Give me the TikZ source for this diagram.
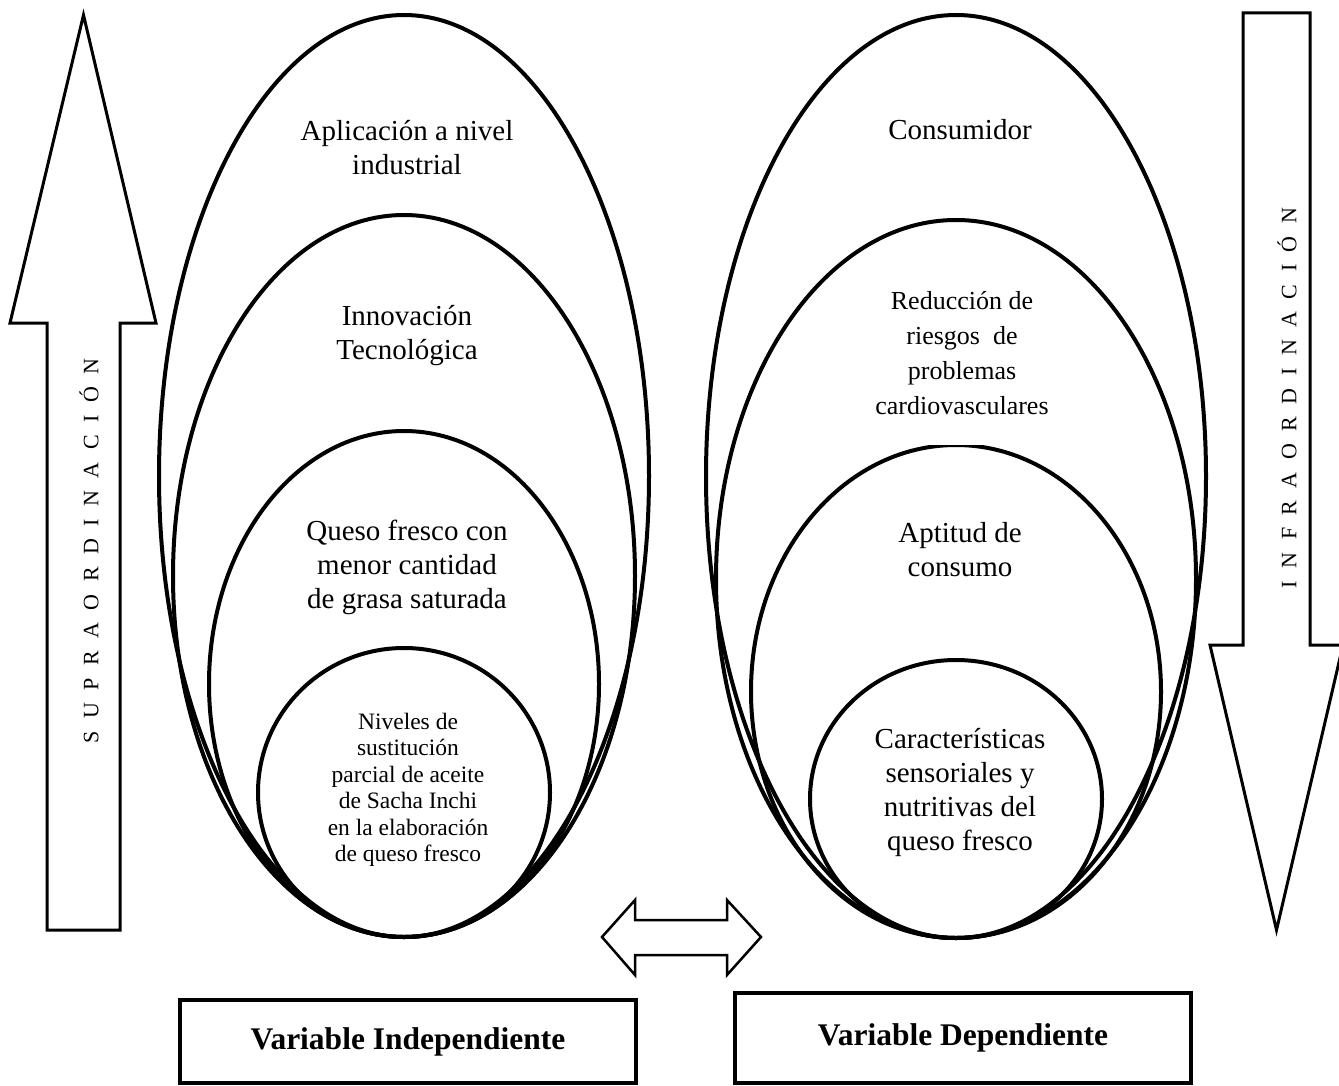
\documentclass[tikz,border=0pt]{standalone}
\usepackage{fontspec}
\setmainfont{Liberation Serif}
\newcommand\lsp{\hspace{12.5pt}}
\begin{document}
\begin{tikzpicture}[x=1pt,y=-1pt,
  ring/.style={line width=4pt},
  bigarrow/.style={line width=3pt, line join=miter},
  lbl/.style={align=center, inner sep=0pt, font=\fontsize{29}{34}\selectfont},
  vtext/.style={rotate=90, inner sep=0pt, font=\fontsize{22}{26}\selectfont},
  varbox/.style={draw, line width=4pt, minimum width=456pt, inner sep=0pt, font=\bfseries\fontsize{31.5}{36}\selectfont}
]
\useasboundingbox (0,0) rectangle (1339,1086);

% left up arrow
\draw[bigarrow] (83.5,15) -- (156,323) -- (120,323) -- (120,930) -- (47,930) -- (47,323) -- (10,323) -- cycle;
\node[vtext] (supra) at (89,551) {S\lsp U\lsp P\lsp R\lsp A\lsp O\lsp R\lsp D\lsp I\lsp N\lsp A\lsp C\lsp I\lsp Ó\lsp N};

% right down arrow
\draw[bigarrow] (1243,13) -- (1310,13) -- (1310,645) -- (1343,645) -- (1276.5,930) -- (1210,645) -- (1243,645) -- cycle;
\node[vtext] (infra) at (1287,398) {I\lsp N\lsp F\lsp R\lsp A\lsp O\lsp R\lsp D\lsp I\lsp N\lsp A\lsp C\lsp I\lsp Ó\lsp N};

% left ellipses
\draw[ring] (404,476) ellipse [x radius=245pt, y radius=461pt];
\draw[ring] (404,576) ellipse [x radius=231pt, y radius=361pt];
\draw[ring] (404,684) ellipse [x radius=195pt, y radius=253pt];
\draw[ring] (404,792.5) ellipse [x radius=146pt, y radius=144.5pt];

% right ellipses
\draw[ring] (956,476.5) ellipse [x radius=250pt, y radius=461.5pt];
\draw[ring] (956,579) ellipse [x radius=240pt, y radius=359pt];
\draw[ring] (956,691.5) ellipse [x radius=205pt, y radius=246.5pt];
\draw[ring] (956,799) ellipse [x radius=146pt, y radius=139pt];
\fill[white] (918,436) rectangle (993,444.5);

% left labels
\node[lbl] (aplic) at (407,147.5) {Aplicación a nivel\\industrial};
\node[lbl] (innov) at (407,336) {Innovación\\Tecnológica};
\node[lbl] (queso) at (407,567) {Queso fresco con\\menor cantidad\\de grasa saturada};
\node[lbl, font=\fontsize{23.5}{26.5}\selectfont] (nivel) at (408,790) {Niveles de\\sustitución\\parcial de aceite\\de Sacha Inchi\\en la elaboración\\de queso fresco};

% right labels
\node[lbl] (consu) at (960,130) {Consumidor};
\node[lbl, font=\fontsize{26}{35}\selectfont] (reduc) at (962,353) {Reducción de\\riesgos \ de\\problemas\\cardiovasculares};
\node[lbl] (aptit) at (960,550) {Aptitud de\\consumo};
\node[lbl] (carac) at (960,792) {Características\\sensoriales y\\nutritivas del\\queso fresco};

% double arrow
\draw[line width=2.5pt, line join=miter] (602,937) -- (635,900) -- (635,920) -- (727,920) -- (727,900) -- (761,937) -- (727,975) -- (727,955) -- (635,955) -- (635,975) -- cycle;

% bottom boxes
\node[varbox, minimum height=83pt] (vind) at (408,1041.5) {Variable Independiente};
\node[varbox, minimum height=90pt] (vdep) at (963,1038) {Variable Dependiente};
\end{tikzpicture}
\end{document}
